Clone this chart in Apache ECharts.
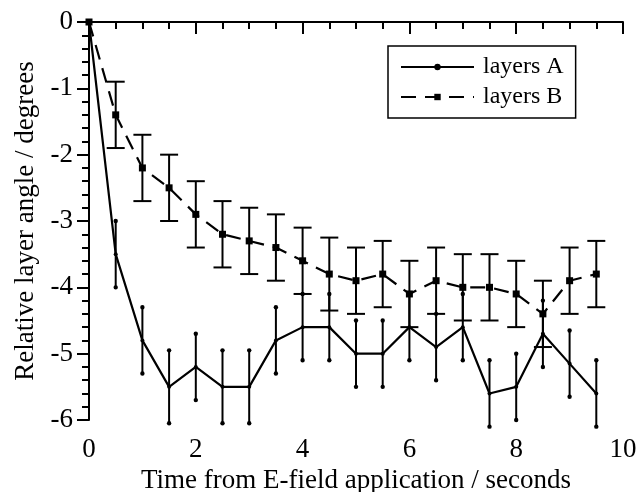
<!DOCTYPE html>
<html>
<head>
<meta charset="utf-8">
<script src="https://cdn.jsdelivr.net/npm/echarts@6/dist/echarts.min.js"></script>
<style>
  html, body { margin: 0; padding: 0; background: #fff; }
  #chart { width: 638px; height: 492px; }
</style>
</head>
<body>
<div id="chart"></div>
<script>
// time in seconds
const times = [0, 0.5, 1, 1.5, 2, 2.5, 3, 3.5, 4, 4.5, 5, 5.5, 6, 6.5, 7, 7.5, 8, 8.5, 9, 9.5];
const layersA = [0, -3.5, -4.8, -5.5, -5.2, -5.5, -5.5, -4.8, -4.6, -4.6, -5.0, -5.0, -4.6, -4.9, -4.6, -5.6, -5.5, -4.7, -5.15, -5.6];
const errA = [0, 0.5, 0.5, 0.55, 0.5, 0.55, 0.55, 0.5, 0.5, 0.5, 0.5, 0.5, 0.5, 0.5, 0.5, 0.5, 0.5, 0.5, 0.5, 0.5];
const layersB = [0, -1.4, -2.2, -2.5, -2.9, -3.2, -3.3, -3.4, -3.6, -3.8, -3.9, -3.8, -4.1, -3.9, -4.0, -4.0, -4.1, -4.4, -3.9, -3.8];
const errB = [0, 0.5, 0.5, 0.5, 0.5, 0.5, 0.5, 0.5, 0.5, 0.55, 0.5, 0.5, 0.5, 0.5, 0.5, 0.5, 0.5, 0.5, 0.5, 0.5];

const font = 'Liberation Serif';
const chart = echarts.init(document.getElementById('chart'));

function pairs(vals) {
  return times.map((t, i) => [t, vals[i]]);
}
function errData(vals, errs) {
  return times.map((t, i) => [t, vals[i] - errs[i], vals[i] + errs[i]]).filter((d, i) => errs[i] > 0);
}

// error bars: A has dotted ends, B has flat caps
function errorBars(capped) {
  return function (params, api) {
    const lo = api.coord([api.value(0), api.value(1)]);
    const hi = api.coord([api.value(0), api.value(2)]);
    const st = { stroke: '#000', lineWidth: 2 };
    const kids = [{ type: 'line', shape: { x1: lo[0], y1: lo[1], x2: hi[0], y2: hi[1] }, style: st }];
    if (capped) {
      [lo, hi].forEach(p => kids.push({
        type: 'line', shape: { x1: p[0] - 9, y1: p[1], x2: p[0] + 9, y2: p[1] }, style: st
      }));
    } else {
      [lo, hi].forEach(p => kids.push({
        type: 'circle', shape: { cx: p[0], cy: p[1], r: 2.2 }, style: { fill: '#000' }
      }));
    }
    return { type: 'group', children: kids };
  };
}

const option = {
  animation: false,
  backgroundColor: '#fff',
  textStyle: { fontFamily: font, color: '#000' },
  grid: { left: 89, right: 15, top: 22, bottom: 72, outerBoundsMode: 'none', containLabel: false },
  legend: {
    left: 388, top: 46,
    orient: 'vertical',
    data: ['layers A', 'layers B'],
    backgroundColor: '#fff',
    borderColor: '#000', borderWidth: 1.5,
    padding: [9, 12, 9, 12],
    itemWidth: 73, itemHeight: 8, itemGap: 6,
    textStyle: { fontFamily: font, fontSize: 24, color: '#000', padding: [0, 0, 0, 4] }
  },
  xAxis: {
    type: 'value', min: 0, max: 10, interval: 2,
    name: 'Time from E-field application / seconds',
    nameLocation: 'middle', nameGap: 44,
    nameTextStyle: { fontFamily: font, fontSize: 27, color: '#000' },
    axisLine: { lineStyle: { color: '#000', width: 2 } },
    axisTick: { length: 12, lineStyle: { color: '#000', width: 2 } },
    minorTick: { show: true, splitNumber: 4, length: 7, lineStyle: { color: '#000', width: 2 } },
    axisLabel: { fontFamily: font, fontSize: 27, color: '#000', margin: 16 },
    splitLine: { show: false }
  },
  yAxis: {
    type: 'value', min: -6, max: 0, interval: 1,
    name: 'Relative layer angle / degrees',
    nameLocation: 'middle', nameGap: 50,
    nameTextStyle: { fontFamily: font, fontSize: 27, color: '#000' },
    axisLine: { lineStyle: { color: '#000', width: 2 } },
    axisTick: { length: 12, lineStyle: { color: '#000', width: 2 } },
    minorTick: { show: true, splitNumber: 5, length: 7, lineStyle: { color: '#000', width: 2 } },
    axisLabel: { fontFamily: font, fontSize: 27, color: '#000', margin: 16 },
    splitLine: { show: false }
  },
  series: [
    {
      name: 'layers A', type: 'line', data: pairs(layersA),
      symbol: 'circle', symbolSize: 4, clip: false,
      lineStyle: { color: '#000', width: 2.2 },
      itemStyle: { color: '#000' }, z: 3
    },
    {
      name: 'layers B', type: 'line', data: pairs(layersB),
      symbol: 'rect', symbolSize: 7, clip: false,
      lineStyle: { color: '#000', width: 2.2, type: [15, 9] },
      itemStyle: { color: '#000' }, z: 3
    },
    {
      type: 'custom', data: errData(layersA, errA), clip: false,
      renderItem: errorBars(false), z: 2
    },
    {
      type: 'custom', data: errData(layersB, errB), clip: false,
      renderItem: errorBars(true), z: 2
    }
  ]
};
chart.setOption(option);
</script>
</body>
</html>
